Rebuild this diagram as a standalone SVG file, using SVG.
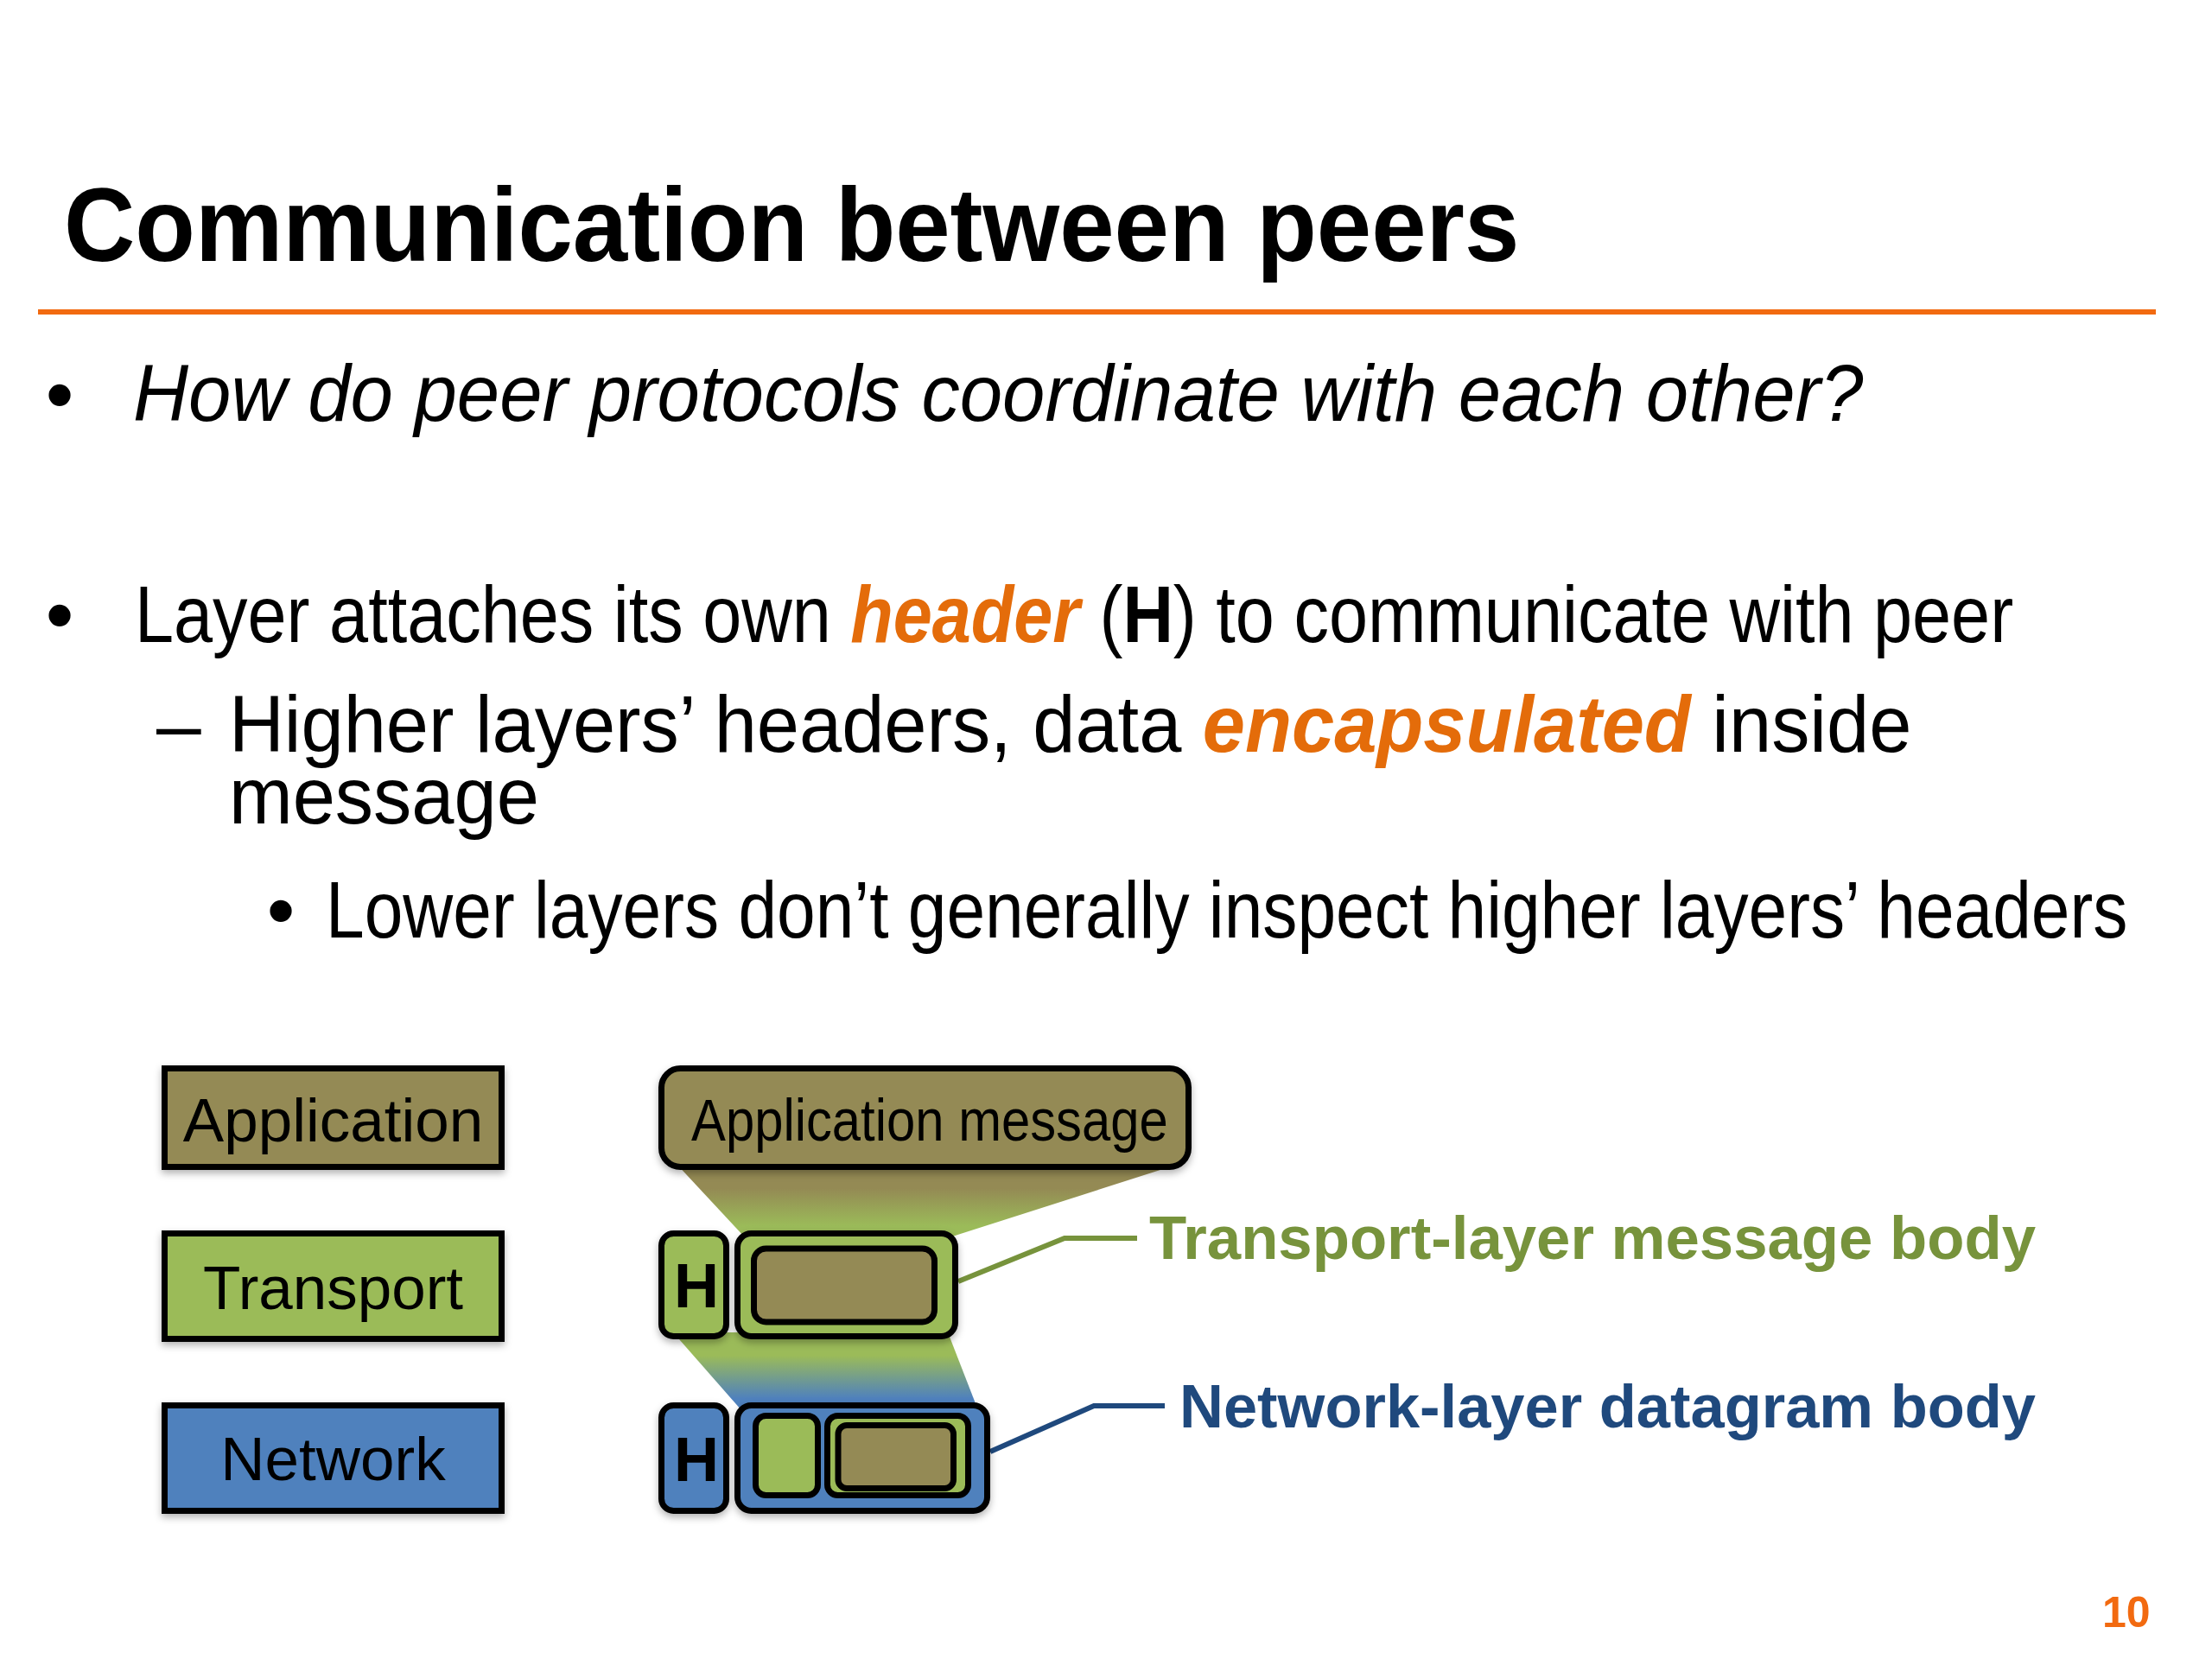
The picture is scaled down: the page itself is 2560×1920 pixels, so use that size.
<svg xmlns="http://www.w3.org/2000/svg" width="2560" height="1920" viewBox="0 0 2560 1920">
<defs>
<style>
text{font-family:"Liberation Sans",Arial,Helvetica,sans-serif;}
.body{font-size:93px;fill:#000;}
.it{font-style:italic;}
.bd{font-weight:bold;}
.org{fill:#E46C0A;font-weight:bold;font-style:italic;}
.box{stroke:#000;stroke-width:7;}
.sq{stroke-linejoin:miter;}
.brown{fill:#948A54;}
.green{fill:#9BBB59;}
.blue{fill:#4F81BD;}
.lbl{font-size:71px;fill:#000;text-anchor:middle;}
.hh{font-size:72px;font-weight:bold;fill:#000;text-anchor:middle;}
.call{fill:none;stroke-width:6;stroke-linejoin:miter;}
</style>
<linearGradient id="gBG" x1="0" y1="0" x2="0" y2="1">
<stop offset="0" stop-color="#948A54"/>
<stop offset="0.35" stop-color="#948A54"/>
<stop offset="0.85" stop-color="#9BBB59"/>
<stop offset="1" stop-color="#9BBB59"/>
</linearGradient>
<linearGradient id="gGB" x1="0" y1="0" x2="0" y2="1">
<stop offset="0" stop-color="#9BBB59"/>
<stop offset="0.3" stop-color="#9BBB59"/>
<stop offset="0.85" stop-color="#4F81BD"/>
<stop offset="1" stop-color="#4F81BD"/>
</linearGradient>
<filter id="sh" x="-10%" y="-10%" width="120%" height="130%">
<feDropShadow dx="0" dy="4" stdDeviation="4" flood-color="#000" flood-opacity="0.3"/>
</filter>
</defs>
<rect x="0" y="0" width="2560" height="1920" fill="#fff"/>

<g id="title">
<text transform="translate(74,302) scale(0.942,1)" x="0" y="0" font-size="121" font-weight="bold" textLength="1788" lengthAdjust="spacingAndGlyphs">Communication between peers</text>
<line x1="44" y1="361" x2="2495" y2="361" stroke="#F26A10" stroke-width="6"/>
</g>

<g id="bullets">
<text class="body" x="69" y="488" text-anchor="middle">•</text>
<text class="body it" transform="translate(154,487) scale(0.954,1)" x="0" y="0" textLength="2099" lengthAdjust="spacingAndGlyphs">How do peer protocols coordinate with each other?</text>

<text class="body" x="69" y="743" text-anchor="middle">•</text>
<text class="body" transform="translate(156,743) scale(0.87,1)" x="0" y="0" textLength="2499" lengthAdjust="spacingAndGlyphs">Layer attaches its own <tspan class="org">header</tspan> (<tspan class="bd">H</tspan>) to communicate with peer</text>

<text class="body" x="181" y="870">–</text>
<text class="body" transform="translate(265,870) scale(0.949,1)" x="0" y="0" textLength="2052" lengthAdjust="spacingAndGlyphs">Higher layers’ headers, data <tspan class="org">encapsulated</tspan> inside</text>
<text class="body" transform="translate(265,953) scale(0.952,1)" x="0" y="0" textLength="377" lengthAdjust="spacingAndGlyphs">message</text>

<text class="body" x="325" y="1085" text-anchor="middle">•</text>
<text class="body" transform="translate(377,1085) scale(0.855,1)" x="0" y="0" textLength="2439" lengthAdjust="spacingAndGlyphs">Lower layers don’t generally inspect higher layers’ headers</text>
</g>

<g id="connectors">
<polygon points="781,1345 1371,1345 1099,1432 862,1432" fill="url(#gBG)"/>
<polygon points="779,1542 1097,1542 1132,1632 858,1632" fill="url(#gGB)"/>
<polyline class="call" points="1109,1483 1232,1433 1316,1433" stroke="#77933C"/>
<polyline class="call" points="1146,1680 1266,1627 1348,1627" stroke="#1F497D"/>
</g>

<g id="layer-application" filter="url(#sh)">
<rect class="box sq brown" x="190.5" y="1236.5" width="390" height="114"/>
<text class="lbl" x="385.5" y="1321">Application</text>
</g>
<g id="layer-transport" filter="url(#sh)">
<rect class="box sq green" x="190.5" y="1427.5" width="390" height="122"/>
<text class="lbl" x="385.5" y="1515">Transport</text>
</g>
<g id="layer-network" filter="url(#sh)">
<rect class="box sq blue" x="190.5" y="1626.5" width="390" height="122"/>
<text class="lbl" x="385.5" y="1713">Network</text>
</g>

<g id="application-message" filter="url(#sh)">
<rect class="box brown" x="765.5" y="1236.5" width="610" height="114" rx="22"/>
<text transform="translate(800,1320) scale(0.88,1)" x="0" y="0" font-size="68" textLength="627" lengthAdjust="spacingAndGlyphs">Application message</text>
</g>

<g id="transport-segment" filter="url(#sh)">
<rect class="box green" x="765.5" y="1427.5" width="75" height="119" rx="14"/>
<text class="hh" x="806" y="1513">H</text>
<rect class="box green" x="853.5" y="1427.5" width="252" height="119" rx="16"/>
<rect class="box brown" x="872.5" y="1445" width="209" height="85" rx="14"/>
</g>

<g id="network-datagram" filter="url(#sh)">
<rect class="box blue" x="765.5" y="1626.5" width="75" height="122" rx="14"/>
<text class="hh" x="806" y="1714">H</text>
<rect class="box blue" x="853.5" y="1626.5" width="289" height="122" rx="16"/>
<rect class="box green" x="874.5" y="1638.5" width="72" height="92" rx="12"/>
<rect class="box green" x="957.5" y="1638.5" width="163" height="92" rx="12"/>
<rect class="box brown" x="970" y="1649.5" width="133.5" height="73" rx="10"/>
</g>

<g id="label-transport">
<text x="1330" y="1457" font-size="70" font-weight="bold" fill="#77933C" textLength="1026" lengthAdjust="spacingAndGlyphs">Transport-layer message body</text>
</g>
<g id="label-network">
<text x="1365" y="1652" font-size="70" font-weight="bold" fill="#1F497D" textLength="991" lengthAdjust="spacingAndGlyphs">Network-layer datagram body</text>
</g>

<g id="page-number">
<text x="2433" y="1883" font-size="50" font-weight="bold" fill="#F26A10">10</text>
</g>
</svg>
